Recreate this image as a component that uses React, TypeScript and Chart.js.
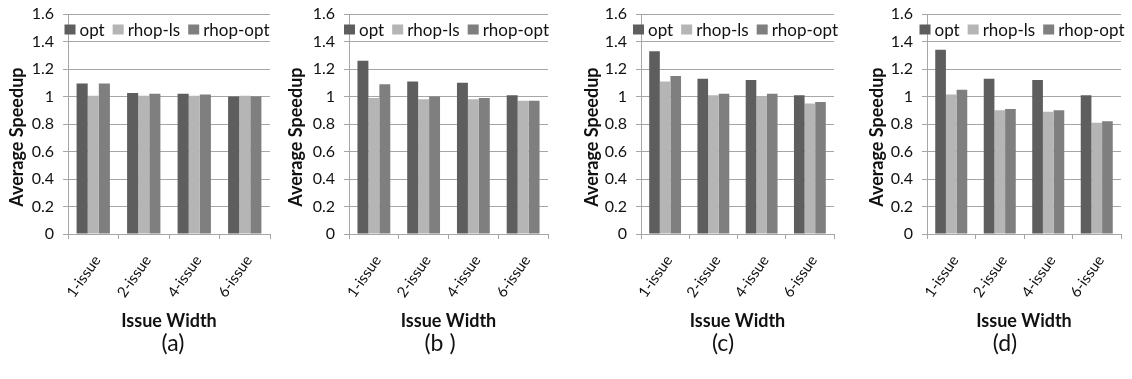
import React, { useEffect, useRef } from "react";
import { Chart, registerables } from "chart.js";

Chart.register(...registerables);

const categories = ["1-issue", "2-issue", "4-issue", "6-issue"];
const seriesNames = ["opt", "rhop-ls", "rhop-opt"];
const seriesColors = ["#5e5e5e", "#b5b5b5", "#7f7f7f"];
const yTicks = [0, 0.2, 0.4, 0.6, 0.8, 1, 1.2, 1.4, 1.6];

const optA = [1.095, 1.025, 1.02, 1.0];
const lsA = [1.005, 1.005, 1.005, 1.005];
const roptA = [1.095, 1.02, 1.015, 1.0];

const optB = [1.26, 1.11, 1.1, 1.01];
const lsB = [0.99, 0.98, 0.98, 0.97];
const roptB = [1.09, 1.0, 0.99, 0.97];

const optC = [1.33, 1.13, 1.12, 1.01];
const lsC = [1.11, 1.01, 1.0, 0.95];
const roptC = [1.15, 1.02, 1.02, 0.96];

const optD = [1.34, 1.13, 1.12, 1.01];
const lsD = [1.015, 0.9, 0.89, 0.81];
const roptD = [1.05, 0.91, 0.9, 0.82];

const panelLabels = ["(a)", "(b )", "(c)", "(d)"];
const yTitle = "Average Speedup";
const xTitle = "Issue Width";

const FONT = "Lato, 'Open Sans', sans-serif";
const GRID = "#a6a6a6";

const legendPlugin = {
  id: "inlineLegend",
  afterDraw(chart: any) {
    const { ctx, chartArea } = chart;
    ctx.save();
    ctx.font = `17px ${FONT}`;
    const items = chart.data.datasets.map((ds: any) => ({
      label: ds.label as string,
      color: ds.backgroundColor as string,
      w: ctx.measureText(ds.label).width,
    }));
    const box = 11;
    const gapText = 4;
    const gapItem = 8;
    const total =
      items.reduce((s: number, it: any) => s + box + gapText + it.w, 0) +
      gapItem * (items.length - 1);
    let x = (chartArea.left + chartArea.right) / 2 - 2 - total / 2;
    const yc = chartArea.top + 15.5;
    ctx.textBaseline = "middle";
    ctx.textAlign = "left";
    for (const it of items) {
      ctx.fillStyle = it.color;
      ctx.fillRect(x, yc - 5, box, 10);
      ctx.fillStyle = "#111";
      ctx.fillText(it.label, x + box + gapText, yc + 1);
      x += box + gapText + it.w + gapItem;
    }
    ctx.restore();
  },
};

type PanelProps = {
  left: number;
  width: number;
  yWidth: number;
  values: number[][];
};

const CANVAS_H = 340;

function Panel({ left, width, yWidth, values }: PanelProps) {
  const ref = useRef<HTMLCanvasElement | null>(null);
  useEffect(() => {
    if (!ref.current) return;
    const chart = new Chart(ref.current, {
      type: "bar",
      data: {
        labels: categories,
        datasets: seriesNames.map((name, i) => ({
          label: name,
          data: values[i],
          backgroundColor: seriesColors[i],
          borderWidth: 0,
          categoryPercentage: 0.66,
          barPercentage: 1,
        })),
      },
      options: {
        animation: false,
        responsive: false,
        maintainAspectRatio: false,
        layout: { padding: { top: 14, right: 6, bottom: 8, left: 0 } },
        plugins: {
          legend: { display: false },
          tooltip: { enabled: false },
        },
        scales: {
          x: {
            grid: {
              display: true,
              drawOnChartArea: false,
              drawTicks: true,
              tickLength: 5,
              offset: true,
              color: GRID,
            },
            border: { display: true, color: GRID },
            ticks: {
              autoSkip: false,
              minRotation: 55,
              maxRotation: 55,
              padding: 13,
              labelOffset: 4,
              color: "#111",
              font: { family: FONT, size: 15 },
            },
            title: {
              display: true,
              text: xTitle,
              color: "#111",
              padding: { top: 0, bottom: 0 },
              font: { family: FONT, size: 18, weight: "bold" },
            },
            afterFit: (scale: any) => {
              scale.height = 98;
            },
          },
          y: {
            min: 0,
            max: 1.6,
            afterBuildTicks: (scale: any) => {
              scale.ticks = yTicks.map((v) => ({ value: v }));
            },
            grid: { color: GRID, tickLength: 5, drawTicks: true },
            border: { display: true, color: GRID },
            ticks: {
              padding: 9,
              color: "#111",
              font: { family: FONT, size: 16 },
              callback: (v: any) => String(Number(Number(v).toFixed(1))),
            },
            title: {
              display: true,
              text: yTitle + "      ",
              color: "#111",
              padding: { top: 6, bottom: 0 },
              font: { family: FONT, size: 18, weight: "bold" },
            },
            afterFit: (scale: any) => {
              scale.width = yWidth;
              scale.paddingTop = 0;
              scale.paddingBottom = 0;
            },
          },
        },
      },
      plugins: [legendPlugin],
    });
    return () => chart.destroy();
  }, [left, width, yWidth, values]);
  return (
    <canvas
      ref={ref}
      width={width}
      height={CANVAS_H}
      style={{ position: "absolute", left, top: 0, width, height: CANVAS_H }}
    />
  );
}

const panels = [
  { left: 0, width: 276, yWidth: 68, values: [optA, lsA, roptA], labelX: 173 },
  { left: 279, width: 275, yWidth: 70, values: [optB, lsB, roptB], labelX: 440 },
  { left: 575, width: 265, yWidth: 66, values: [optC, lsC, roptC], labelX: 723 },
  { left: 860, width: 267, yWidth: 67, values: [optD, lsD, roptD], labelX: 1005 },
];

export default function App() {
  return (
    <div
      style={{
        position: "fixed",
        left: 0,
        top: 0,
        width: 1132,
        height: 379,
        background: "#fff",
        overflow: "hidden",
      }}
    >
      {panels.map((p, i) => (
        <React.Fragment key={i}>
          <Panel left={p.left} width={p.width} yWidth={p.yWidth} values={p.values} />
          <div
            style={{
              position: "absolute",
              left: p.labelX - 40,
              width: 80,
              top: 329,
              lineHeight: "26px",
              textAlign: "center",
              fontFamily: FONT,
              fontSize: 23,
              color: "#111",
            }}
          >
            {panelLabels[i]}
          </div>
        </React.Fragment>
      ))}
    </div>
  );
}
